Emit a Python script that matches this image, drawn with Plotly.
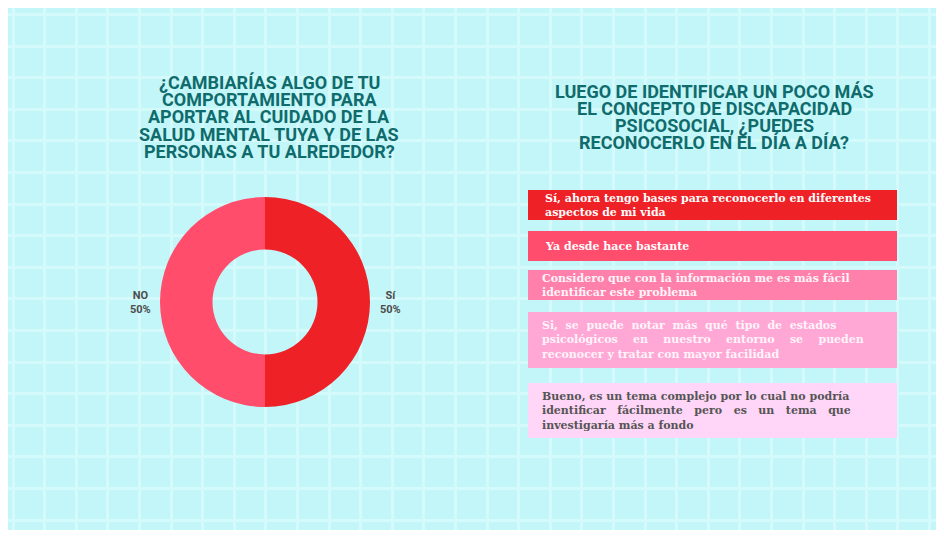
import math
import plotly.graph_objects as go

# ---- data ----
pie_labels = ["Sí", "NO"]
pie_values = [50, 50]
pie_colors = ["#ee2126", "#ff4d6b"]

left_title = ["¿CAMBIARÍAS ALGO DE TU", "COMPORTAMIENTO PARA", "APORTAR AL CUIDADO DE LA",
              "SALUD MENTAL TUYA Y DE LAS", "PERSONAS A TU ALREDEDOR?"]
right_title = ["LUEGO DE IDENTIFICAR UN POCO MÁS", "EL CONCEPTO DE DISCAPACIDAD",
               "PSICOSOCIAL, ¿PUEDES", "RECONOCERLO EN EL DÍA A DÍA?"]

responses = [
    ["Sí, ahora tengo bases para reconocerlo en diferentes", "aspectos de mi vida"],
    ["Ya desde hace bastante"],
    ["Considero que con la información me es más fácil", "identificar este problema"],
    ["Si, se puede notar más qué tipo de estados", "psicológicos en nuestro entorno se pueden",
     "reconocer y tratar con mayor facilidad"],
    ["Bueno, es un tema complejo por lo cual no podría", "identificar fácilmente pero es un tema que",
     "investigaría más a fondo"],
]

# ---- styles / layout geometry (screen pixel coords; page body offsets figure by 8px) ----
OFF = 8
X1, Y1 = 938, 530
FW, FH = X1 - OFF, Y1 - OFF
box_colors = ["#ee2126", "#ff4d6d", "#ff80ab", "#ffa8d6", "#ffd6f7"]
box_text_colors = ["#ffffff", "#ffffff", "#fff4f8", "#fff4fa", "#555555"]
box_y = [(190, 220), (231, 261), (270, 300), (312, 368), (383, 438)]
box_x = (528, 897)
text_x = [543, 543, 540, 540, 540]
justify = [False, False, False, True, True]
box_font = 11
just_width = 322
title_color = "#0f6b6c"
title_size = 18

pie_cx, pie_cy, pie_r = 265, 302, 105


def justify_line(line, size, target):
    words = line.split(" ")
    gaps = len(words) - 1
    if gaps <= 0:
        return line
    est = len(line) * 0.57 * size
    space_w = 0.348 * size
    extra = max(0, math.floor((target - est) / gaps / space_w))
    return ("\u00a0" * (1 + extra)).join(words)


fig = go.Figure()

dom_x = [(pie_cx - pie_r - OFF) / FW, (pie_cx + pie_r - OFF) / FW]
dom_y = [((Y1 - pie_cy) - pie_r) / FH, ((Y1 - pie_cy) + pie_r) / FH]

fig.add_trace(go.Pie(
    labels=pie_labels, values=pie_values, hole=0.5, sort=False,
    direction="clockwise", rotation=0,
    marker=dict(colors=pie_colors, line=dict(width=0)),
    textinfo="none", showlegend=False, domain=dict(x=dom_x, y=dom_y),
))

annotations = []
total = sum(pie_values)
for lab, v, side in zip(pie_labels, pie_values, [1, -1]):
    annotations.append(dict(
        x=pie_cx + side * (pie_r + 20), y=pie_cy, xref="x", yref="y",
        text=f"<b>{lab}<br>{v / total * 100:.0f}%</b>", showarrow=False,
        font=dict(family="Roboto", size=11, color="#4d4d4d"),
        xanchor="center", yanchor="middle",
    ))

for i, line in enumerate(left_title):
    annotations.append(dict(
        x=269, y=82 + i * 17.4, xref="x", yref="y", text=f"<b>{line}</b>",
        showarrow=False, font=dict(family="Roboto", size=title_size, color=title_color),
        xanchor="center", yanchor="middle",
    ))
for i, line in enumerate(right_title):
    annotations.append(dict(
        x=714, y=91 + i * 17.3, xref="x", yref="y", text=f"<b>{line}</b>",
        showarrow=False, font=dict(family="Roboto", size=title_size, color=title_color),
        xanchor="center", yanchor="middle",
    ))

shapes = []
for lines, (y0, y1), col, tcol, tx, jf in zip(responses, box_y, box_colors, box_text_colors,
                                              text_x, justify):
    shapes.append(dict(type="rect", xref="x", yref="y", x0=box_x[0], x1=box_x[1],
                       y0=y0, y1=y1, fillcolor=col, line=dict(width=0), layer="above"))
    shown = [justify_line(l, box_font, just_width) if (jf and k < len(lines) - 1) else l
             for k, l in enumerate(lines)]
    annotations.append(dict(
        x=tx, y=(y0 + y1) / 2, xref="x", yref="y",
        text="<b>" + "<br>".join(shown) + "</b>", showarrow=False, align="left",
        font=dict(family="DejaVu Serif", size=box_font, color=tcol),
        xanchor="left", yanchor="middle",
    ))

fig.update_layout(
    width=FW, height=FH, margin=dict(l=0, r=0, t=0, b=0),
    paper_bgcolor="#ffffff", plot_bgcolor="#c3f6f9",
    xaxis=dict(range=[OFF, X1], tick0=13, dtick=31.6, showgrid=True, gridcolor="#d5fafc",
               gridwidth=2.5, showticklabels=False, zeroline=False, ticks="", fixedrange=True),
    yaxis=dict(range=[Y1, OFF], tick0=14.5, dtick=31.6, showgrid=True, gridcolor="#d5fafc",
               gridwidth=2.5, showticklabels=False, zeroline=False, ticks="", fixedrange=True),
    annotations=annotations, shapes=shapes, showlegend=False,
)

fig.write_html("out.html")
